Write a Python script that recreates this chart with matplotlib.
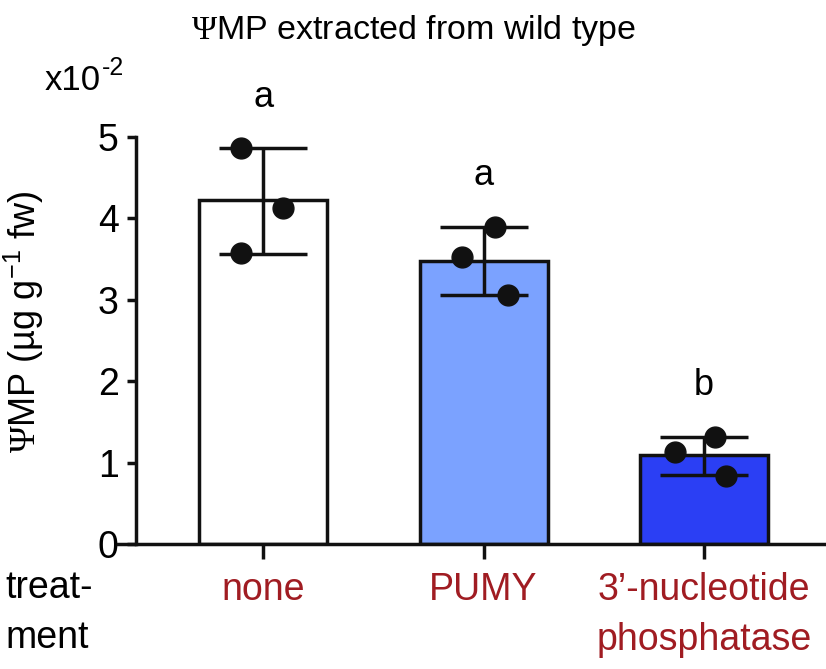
import numpy as np
import matplotlib
matplotlib.use("Agg")
import matplotlib.pyplot as plt

plt.rcParams["font.family"] = ["Liberation Sans", "DejaVu Sans"]
plt.rcParams["mathtext.fontset"] = "custom"
plt.rcParams["mathtext.rm"] = "Liberation Serif"
plt.rcParams["mathtext.sf"] = "Liberation Sans"

# data (x10^-2 ug/g fw)
categories = ["none", "PUMY", "3\u2019-nucleotide\nphosphatase"]
means = [4.23, 3.48, 1.09]
err_low = [3.56, 3.06, 0.85]
err_high = [4.86, 3.89, 1.31]
replicates = [[4.87, 4.13, 3.58], [3.90, 3.53, 3.06], [1.13, 1.31, 0.84]]
jitter = [[-0.10, 0.09, -0.10], [0.05, -0.10, 0.11], [-0.13, 0.05, 0.10]]
letters = ["a", "a", "b"]
bar_colors = ["white", "#7ba2ff", "#2b3ff4"]
label_color = "#a01c22"

W, H = 826, 669
fig = plt.figure(figsize=(W / 100, H / 100), dpi=100)
ax = fig.add_axes([118 / W, 1 - 544 / H, 1 - 118 / W, (544 - 137) / H])

x = np.arange(len(categories))
ax.bar(x, means, width=0.58, color=bar_colors, edgecolor="#111111",
       linewidth=2.5, zorder=2)

yerr = [np.array(means) - np.array(err_low), np.array(err_high) - np.array(means)]
ax.errorbar(x, means, yerr=yerr, fmt="none", ecolor="#111111", elinewidth=2.5,
            capsize=32, capthick=2.5, zorder=3, clip_on=False)

for i in range(len(categories)):
    ax.plot(x[i] + np.array(jitter[i]), replicates[i], "o", color="#111111",
            markersize=15, zorder=4, clip_on=False)
    ax.annotate(letters[i], (x[i], err_high[i]), xytext=(0, 37),
                textcoords="offset points", ha="center", va="center",
                fontsize=26)

ax.set_xlim(-0.658, 2.553)
ax.set_ylim(0, 5)
ax.set_yticks([0, 1, 2, 3, 4, 5])
ax.set_xticks(x)
ax.set_xticklabels(categories, color=label_color, fontsize=27, linespacing=1.5, va="top")

ax.spines["top"].set_visible(False)
ax.spines["right"].set_visible(False)
ax.spines["left"].set_position(("data", -0.576))
for s in ["left", "bottom"]:
    ax.spines[s].set_linewidth(2.5)
    ax.spines[s].set_color("#111111")
ax.tick_params(axis="y", direction="out", length=6.5, width=2.5, labelsize=27,
               pad=6, color="#111111")
ax.tick_params(axis="x", direction="out", length=11, width=2.5, pad=9,
               color="#111111")

ax.set_ylabel(r"$\Psi$MP (µg g$^{\mathsf{-1}}$ fw)", fontsize=26)
ax.yaxis.set_label_coords(-0.101, 0.545)

fig.text(414 / W, 1 - 30 / H, r"$\Psi$MP extracted from wild type", ha="center",
         va="center", fontsize=24.5)
fig.text(45 / W, 1 - 90 / H, "x10", ha="left", va="baseline", fontsize=25)
fig.text(102 / W, 1 - 75 / H, "-2", ha="left", va="baseline", fontsize=18)
fig.text(5 / W, 1 - 570 / H, "treat-\nment", ha="left", va="top", fontsize=27,
         linespacing=1.5)

fig.savefig("out.png", dpi=100)
